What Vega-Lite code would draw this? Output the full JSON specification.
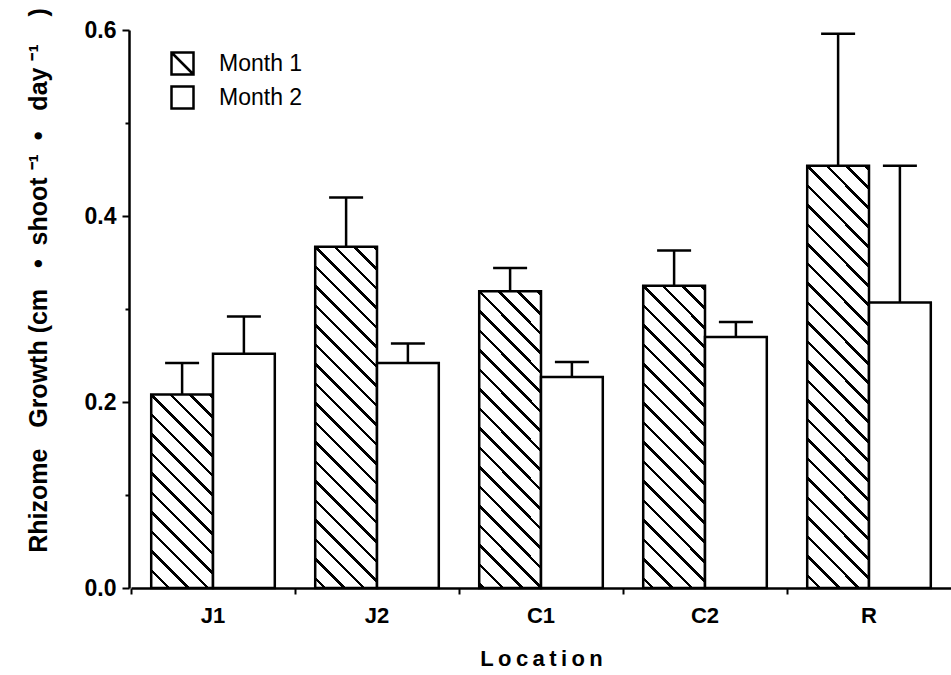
{
  "$schema": "https://vega.github.io/schema/vega-lite/v6.json",
  "width": 820,
  "height": 558,
  "autosize": {"type": "none"},
  "padding": {"left": 131, "top": 30, "right": 0, "bottom": 87},
  "background": "white",
  "config": {"view": {"stroke": null}, "font": "Liberation Sans"},
  "resolve": {"axis": {"y": "independent"}},
  "data": {
    "values": [
      {"location": "J1", "month": "Month 1", "value": 0.208, "upper": 0.242},
      {"location": "J1", "month": "Month 2", "value": 0.252, "upper": 0.292},
      {"location": "J2", "month": "Month 1", "value": 0.367, "upper": 0.42},
      {"location": "J2", "month": "Month 2", "value": 0.242, "upper": 0.263},
      {"location": "C1", "month": "Month 1", "value": 0.319, "upper": 0.344},
      {"location": "C1", "month": "Month 2", "value": 0.227, "upper": 0.243},
      {"location": "C2", "month": "Month 1", "value": 0.325, "upper": 0.363},
      {"location": "C2", "month": "Month 2", "value": 0.27, "upper": 0.286},
      {"location": "R", "month": "Month 1", "value": 0.454, "upper": 0.596},
      {"location": "R", "month": "Month 2", "value": 0.307, "upper": 0.454}
    ]
  },
  "encoding": {
    "x": {
      "field": "location",
      "type": "nominal",
      "sort": ["J1", "J2", "C1", "C2", "R"],
      "scale": {"paddingInner": 0, "paddingOuter": 0},
      "axis": {
        "title": "L\u2009o\u2009c\u2009a\u2009t\u2009i\u2009o\u2009n",
        "bandPosition": 0,
        "labelAngle": 0,
        "tickSize": 6,
        "tickWidth": 2,
        "tickColor": "black",
        "domainColor": "black",
        "domainWidth": 2.5,
        "labelFont": "Liberation Sans",
        "labelFontSize": 22,
        "labelFontWeight": "bold",
        "labelColor": "black",
        "labelPadding": 11,
        "titleFont": "Liberation Sans",
        "titleFontSize": 22,
        "titleFontWeight": "bold",
        "titleColor": "black",
        "titlePadding": 22
      }
    },
    "xOffset": {
      "field": "month",
      "type": "nominal",
      "scale": {"paddingInner": 0, "paddingOuter": 0.327}
    }
  },
  "layer": [
    {
      "mark": {"type": "bar", "stroke": "black", "strokeWidth": 2.5},
      "encoding": {
        "y": {
          "field": "value",
          "type": "quantitative",
          "scale": {"domain": [0, 0.6], "nice": false},
          "axis": {
            "orient": "left",
            "offset": 2,
            "title": "Rhizome\u00a0\u00a0\u00a0Growth\u00a0(cm\u00a0\u00a0\u00a0•\u00a0\u00a0shoot\u00a0⁻¹\u00a0\u00a0•\u00a0\u00a0\u00a0day\u00a0⁻¹\u00a0\u00a0\u00a0\u00a0)",
            "values": [0, 0.2, 0.4, 0.6],
            "format": ".1f",
            "tickSize": 7,
            "tickWidth": 2,
            "tickColor": "black",
            "domainColor": "black",
            "domainWidth": 2.5,
            "grid": false,
            "labelFont": "Liberation Sans",
            "labelFontSize": 23,
            "labelFontWeight": "bold",
            "labelColor": "black",
            "labelPadding": 6,
            "titleFont": "Liberation Sans",
            "titleFontSize": 25,
            "titleFontWeight": "bold",
            "titleColor": "black",
            "titleAngle": 270,
            "titleX": -83,
            "titleY": 250,
            "titleAlign": "center",
            "titleBaseline": "alphabetic"
          }
        },
        "fill": {
          "field": "month",
          "type": "nominal",
          "scale": {"domain": ["Month 1", "Month 2"], "range": ["white", "white"]},
          "legend": {
            "title": null,
            "orient": "none",
            "legendX": 39,
            "legendY": 21,
            "direction": "vertical",
            "symbolSize": 484,
            "symbolStrokeColor": "black",
            "symbolStrokeWidth": 2.5,
            "symbolOpacity": 1,
            "labelFont": "Liberation Sans",
            "labelFontSize": 23,
            "labelColor": "black",
            "labelOffset": 24,
            "rowPadding": 1,
            "padding": 0
          },
          "condition": [
            {
              "test": "datum.location === 'J1' && datum.month === 'Month 1'",
              "value": {"gradient": "linear", "x1": 0, "y1": 1, "x2": 0.38382, "y2": -0.19751, "stops": [
                {"offset": 0.06319, "color": "#fff"}, {"offset": 0.06319, "color": "#000"}, {"offset": 0.07728, "color": "#000"}, {"offset": 0.07728, "color": "#fff"},
                {"offset": 0.13953, "color": "#fff"}, {"offset": 0.13953, "color": "#000"}, {"offset": 0.15362, "color": "#000"}, {"offset": 0.15362, "color": "#fff"},
                {"offset": 0.21587, "color": "#fff"}, {"offset": 0.21587, "color": "#000"}, {"offset": 0.22996, "color": "#000"}, {"offset": 0.22996, "color": "#fff"},
                {"offset": 0.29221, "color": "#fff"}, {"offset": 0.29221, "color": "#000"}, {"offset": 0.30630, "color": "#000"}, {"offset": 0.30630, "color": "#fff"},
                {"offset": 0.36854, "color": "#fff"}, {"offset": 0.36854, "color": "#000"}, {"offset": 0.38263, "color": "#000"}, {"offset": 0.38263, "color": "#fff"},
                {"offset": 0.44488, "color": "#fff"}, {"offset": 0.44488, "color": "#000"}, {"offset": 0.45897, "color": "#000"}, {"offset": 0.45897, "color": "#fff"},
                {"offset": 0.52122, "color": "#fff"}, {"offset": 0.52122, "color": "#000"}, {"offset": 0.53531, "color": "#000"}, {"offset": 0.53531, "color": "#fff"},
                {"offset": 0.59756, "color": "#fff"}, {"offset": 0.59756, "color": "#000"}, {"offset": 0.61165, "color": "#000"}, {"offset": 0.61165, "color": "#fff"},
                {"offset": 0.67390, "color": "#fff"}, {"offset": 0.67390, "color": "#000"}, {"offset": 0.68799, "color": "#000"}, {"offset": 0.68799, "color": "#fff"},
                {"offset": 0.75024, "color": "#fff"}, {"offset": 0.75024, "color": "#000"}, {"offset": 0.76433, "color": "#000"}, {"offset": 0.76433, "color": "#fff"},
                {"offset": 0.82658, "color": "#fff"}, {"offset": 0.82658, "color": "#000"}, {"offset": 0.84067, "color": "#000"}, {"offset": 0.84067, "color": "#fff"},
                {"offset": 0.90292, "color": "#fff"}, {"offset": 0.90292, "color": "#000"}, {"offset": 0.91701, "color": "#000"}, {"offset": 0.91701, "color": "#fff"},
                {"offset": 0.97926, "color": "#fff"}, {"offset": 0.97926, "color": "#000"}, {"offset": 0.99335, "color": "#000"}, {"offset": 0.99335, "color": "#fff"}
              ]}
            },
            {
              "test": "datum.location === 'J2' && datum.month === 'Month 1'",
              "value": {"gradient": "linear", "x1": 0, "y1": 1, "x2": 0.20779, "y2": -0.14391, "stops": [
                {"offset": 0.01986, "color": "#fff"}, {"offset": 0.01986, "color": "#000"}, {"offset": 0.02879, "color": "#000"}, {"offset": 0.02879, "color": "#fff"},
                {"offset": 0.06821, "color": "#fff"}, {"offset": 0.06821, "color": "#000"}, {"offset": 0.07714, "color": "#000"}, {"offset": 0.07714, "color": "#fff"},
                {"offset": 0.11656, "color": "#fff"}, {"offset": 0.11656, "color": "#000"}, {"offset": 0.12549, "color": "#000"}, {"offset": 0.12549, "color": "#fff"},
                {"offset": 0.16491, "color": "#fff"}, {"offset": 0.16491, "color": "#000"}, {"offset": 0.17384, "color": "#000"}, {"offset": 0.17384, "color": "#fff"},
                {"offset": 0.21326, "color": "#fff"}, {"offset": 0.21326, "color": "#000"}, {"offset": 0.22219, "color": "#000"}, {"offset": 0.22219, "color": "#fff"},
                {"offset": 0.26161, "color": "#fff"}, {"offset": 0.26161, "color": "#000"}, {"offset": 0.27054, "color": "#000"}, {"offset": 0.27054, "color": "#fff"},
                {"offset": 0.30996, "color": "#fff"}, {"offset": 0.30996, "color": "#000"}, {"offset": 0.31889, "color": "#000"}, {"offset": 0.31889, "color": "#fff"},
                {"offset": 0.35831, "color": "#fff"}, {"offset": 0.35831, "color": "#000"}, {"offset": 0.36724, "color": "#000"}, {"offset": 0.36724, "color": "#fff"},
                {"offset": 0.40666, "color": "#fff"}, {"offset": 0.40666, "color": "#000"}, {"offset": 0.41559, "color": "#000"}, {"offset": 0.41559, "color": "#fff"},
                {"offset": 0.45501, "color": "#fff"}, {"offset": 0.45501, "color": "#000"}, {"offset": 0.46394, "color": "#000"}, {"offset": 0.46394, "color": "#fff"},
                {"offset": 0.50336, "color": "#fff"}, {"offset": 0.50336, "color": "#000"}, {"offset": 0.51229, "color": "#000"}, {"offset": 0.51229, "color": "#fff"},
                {"offset": 0.55171, "color": "#fff"}, {"offset": 0.55171, "color": "#000"}, {"offset": 0.56064, "color": "#000"}, {"offset": 0.56064, "color": "#fff"},
                {"offset": 0.60006, "color": "#fff"}, {"offset": 0.60006, "color": "#000"}, {"offset": 0.60899, "color": "#000"}, {"offset": 0.60899, "color": "#fff"},
                {"offset": 0.64841, "color": "#fff"}, {"offset": 0.64841, "color": "#000"}, {"offset": 0.65734, "color": "#000"}, {"offset": 0.65734, "color": "#fff"},
                {"offset": 0.69676, "color": "#fff"}, {"offset": 0.69676, "color": "#000"}, {"offset": 0.70569, "color": "#000"}, {"offset": 0.70569, "color": "#fff"},
                {"offset": 0.74511, "color": "#fff"}, {"offset": 0.74511, "color": "#000"}, {"offset": 0.75404, "color": "#000"}, {"offset": 0.75404, "color": "#fff"},
                {"offset": 0.79346, "color": "#fff"}, {"offset": 0.79346, "color": "#000"}, {"offset": 0.80239, "color": "#000"}, {"offset": 0.80239, "color": "#fff"},
                {"offset": 0.84181, "color": "#fff"}, {"offset": 0.84181, "color": "#000"}, {"offset": 0.85074, "color": "#000"}, {"offset": 0.85074, "color": "#fff"},
                {"offset": 0.89016, "color": "#fff"}, {"offset": 0.89016, "color": "#000"}, {"offset": 0.89909, "color": "#000"}, {"offset": 0.89909, "color": "#fff"},
                {"offset": 0.93851, "color": "#fff"}, {"offset": 0.93851, "color": "#000"}, {"offset": 0.94744, "color": "#000"}, {"offset": 0.94744, "color": "#fff"},
                {"offset": 0.98686, "color": "#fff"}, {"offset": 0.98686, "color": "#000"}, {"offset": 0.99579, "color": "#000"}, {"offset": 0.99579, "color": "#fff"}
              ]}
            },
            {
              "test": "datum.location === 'C1' && datum.month === 'Month 1'",
              "value": {"gradient": "linear", "x1": 0, "y1": 1, "x2": 0.24209, "y2": -0.15838, "stops": [
                {"offset": 0.00660, "color": "#fff"}, {"offset": 0.00660, "color": "#000"}, {"offset": 0.01664, "color": "#000"}, {"offset": 0.01664, "color": "#fff"},
                {"offset": 0.06097, "color": "#fff"}, {"offset": 0.06097, "color": "#000"}, {"offset": 0.07101, "color": "#000"}, {"offset": 0.07101, "color": "#fff"},
                {"offset": 0.11534, "color": "#fff"}, {"offset": 0.11534, "color": "#000"}, {"offset": 0.12538, "color": "#000"}, {"offset": 0.12538, "color": "#fff"},
                {"offset": 0.16970, "color": "#fff"}, {"offset": 0.16970, "color": "#000"}, {"offset": 0.17974, "color": "#000"}, {"offset": 0.17974, "color": "#fff"},
                {"offset": 0.22407, "color": "#fff"}, {"offset": 0.22407, "color": "#000"}, {"offset": 0.23411, "color": "#000"}, {"offset": 0.23411, "color": "#fff"},
                {"offset": 0.27844, "color": "#fff"}, {"offset": 0.27844, "color": "#000"}, {"offset": 0.28848, "color": "#000"}, {"offset": 0.28848, "color": "#fff"},
                {"offset": 0.33281, "color": "#fff"}, {"offset": 0.33281, "color": "#000"}, {"offset": 0.34285, "color": "#000"}, {"offset": 0.34285, "color": "#fff"},
                {"offset": 0.38718, "color": "#fff"}, {"offset": 0.38718, "color": "#000"}, {"offset": 0.39722, "color": "#000"}, {"offset": 0.39722, "color": "#fff"},
                {"offset": 0.44154, "color": "#fff"}, {"offset": 0.44154, "color": "#000"}, {"offset": 0.45158, "color": "#000"}, {"offset": 0.45158, "color": "#fff"},
                {"offset": 0.49591, "color": "#fff"}, {"offset": 0.49591, "color": "#000"}, {"offset": 0.50595, "color": "#000"}, {"offset": 0.50595, "color": "#fff"},
                {"offset": 0.55028, "color": "#fff"}, {"offset": 0.55028, "color": "#000"}, {"offset": 0.56032, "color": "#000"}, {"offset": 0.56032, "color": "#fff"},
                {"offset": 0.60465, "color": "#fff"}, {"offset": 0.60465, "color": "#000"}, {"offset": 0.61469, "color": "#000"}, {"offset": 0.61469, "color": "#fff"},
                {"offset": 0.65902, "color": "#fff"}, {"offset": 0.65902, "color": "#000"}, {"offset": 0.66906, "color": "#000"}, {"offset": 0.66906, "color": "#fff"},
                {"offset": 0.71338, "color": "#fff"}, {"offset": 0.71338, "color": "#000"}, {"offset": 0.72342, "color": "#000"}, {"offset": 0.72342, "color": "#fff"},
                {"offset": 0.76775, "color": "#fff"}, {"offset": 0.76775, "color": "#000"}, {"offset": 0.77779, "color": "#000"}, {"offset": 0.77779, "color": "#fff"},
                {"offset": 0.82212, "color": "#fff"}, {"offset": 0.82212, "color": "#000"}, {"offset": 0.83216, "color": "#000"}, {"offset": 0.83216, "color": "#fff"},
                {"offset": 0.87649, "color": "#fff"}, {"offset": 0.87649, "color": "#000"}, {"offset": 0.88653, "color": "#000"}, {"offset": 0.88653, "color": "#fff"},
                {"offset": 0.93086, "color": "#fff"}, {"offset": 0.93086, "color": "#000"}, {"offset": 0.94090, "color": "#000"}, {"offset": 0.94090, "color": "#fff"},
                {"offset": 0.98523, "color": "#fff"}, {"offset": 0.98523, "color": "#000"}, {"offset": 0.99527, "color": "#000"}, {"offset": 0.99527, "color": "#fff"}
              ]}
            },
            {
              "test": "datum.location === 'C2' && datum.month === 'Month 1'",
              "value": {"gradient": "linear", "x1": 0, "y1": 1, "x2": 0.23722, "y2": -0.15647, "stops": [
                {"offset": 0.02182, "color": "#fff"}, {"offset": 0.02182, "color": "#000"}, {"offset": 0.03170, "color": "#000"}, {"offset": 0.03170, "color": "#fff"},
                {"offset": 0.07536, "color": "#fff"}, {"offset": 0.07536, "color": "#000"}, {"offset": 0.08524, "color": "#000"}, {"offset": 0.08524, "color": "#fff"},
                {"offset": 0.12889, "color": "#fff"}, {"offset": 0.12889, "color": "#000"}, {"offset": 0.13877, "color": "#000"}, {"offset": 0.13877, "color": "#fff"},
                {"offset": 0.18243, "color": "#fff"}, {"offset": 0.18243, "color": "#000"}, {"offset": 0.19231, "color": "#000"}, {"offset": 0.19231, "color": "#fff"},
                {"offset": 0.23596, "color": "#fff"}, {"offset": 0.23596, "color": "#000"}, {"offset": 0.24584, "color": "#000"}, {"offset": 0.24584, "color": "#fff"},
                {"offset": 0.28950, "color": "#fff"}, {"offset": 0.28950, "color": "#000"}, {"offset": 0.29938, "color": "#000"}, {"offset": 0.29938, "color": "#fff"},
                {"offset": 0.34303, "color": "#fff"}, {"offset": 0.34303, "color": "#000"}, {"offset": 0.35291, "color": "#000"}, {"offset": 0.35291, "color": "#fff"},
                {"offset": 0.39657, "color": "#fff"}, {"offset": 0.39657, "color": "#000"}, {"offset": 0.40645, "color": "#000"}, {"offset": 0.40645, "color": "#fff"},
                {"offset": 0.45010, "color": "#fff"}, {"offset": 0.45010, "color": "#000"}, {"offset": 0.45998, "color": "#000"}, {"offset": 0.45998, "color": "#fff"},
                {"offset": 0.50364, "color": "#fff"}, {"offset": 0.50364, "color": "#000"}, {"offset": 0.51352, "color": "#000"}, {"offset": 0.51352, "color": "#fff"},
                {"offset": 0.55717, "color": "#fff"}, {"offset": 0.55717, "color": "#000"}, {"offset": 0.56705, "color": "#000"}, {"offset": 0.56705, "color": "#fff"},
                {"offset": 0.61071, "color": "#fff"}, {"offset": 0.61071, "color": "#000"}, {"offset": 0.62059, "color": "#000"}, {"offset": 0.62059, "color": "#fff"},
                {"offset": 0.66424, "color": "#fff"}, {"offset": 0.66424, "color": "#000"}, {"offset": 0.67412, "color": "#000"}, {"offset": 0.67412, "color": "#fff"},
                {"offset": 0.71778, "color": "#fff"}, {"offset": 0.71778, "color": "#000"}, {"offset": 0.72766, "color": "#000"}, {"offset": 0.72766, "color": "#fff"},
                {"offset": 0.77131, "color": "#fff"}, {"offset": 0.77131, "color": "#000"}, {"offset": 0.78119, "color": "#000"}, {"offset": 0.78119, "color": "#fff"},
                {"offset": 0.82485, "color": "#fff"}, {"offset": 0.82485, "color": "#000"}, {"offset": 0.83473, "color": "#000"}, {"offset": 0.83473, "color": "#fff"},
                {"offset": 0.87839, "color": "#fff"}, {"offset": 0.87839, "color": "#000"}, {"offset": 0.88827, "color": "#000"}, {"offset": 0.88827, "color": "#fff"},
                {"offset": 0.93192, "color": "#fff"}, {"offset": 0.93192, "color": "#000"}, {"offset": 0.94180, "color": "#000"}, {"offset": 0.94180, "color": "#fff"},
                {"offset": 0.98546, "color": "#fff"}, {"offset": 0.98546, "color": "#000"}, {"offset": 0.99534, "color": "#000"}, {"offset": 0.99534, "color": "#fff"}
              ]}
            },
            {
              "test": "datum.location === 'R' && datum.month === 'Month 1'",
              "value": {"gradient": "linear", "x1": 0, "y1": 1, "x2": 0.16485, "y2": -0.12264, "stops": [
                {"offset": 0.02255, "color": "#fff"}, {"offset": 0.02255, "color": "#000"}, {"offset": 0.02999, "color": "#000"}, {"offset": 0.02999, "color": "#fff"},
                {"offset": 0.06282, "color": "#fff"}, {"offset": 0.06282, "color": "#000"}, {"offset": 0.07026, "color": "#000"}, {"offset": 0.07026, "color": "#fff"},
                {"offset": 0.10309, "color": "#fff"}, {"offset": 0.10309, "color": "#000"}, {"offset": 0.11053, "color": "#000"}, {"offset": 0.11053, "color": "#fff"},
                {"offset": 0.14336, "color": "#fff"}, {"offset": 0.14336, "color": "#000"}, {"offset": 0.15080, "color": "#000"}, {"offset": 0.15080, "color": "#fff"},
                {"offset": 0.18363, "color": "#fff"}, {"offset": 0.18363, "color": "#000"}, {"offset": 0.19107, "color": "#000"}, {"offset": 0.19107, "color": "#fff"},
                {"offset": 0.22390, "color": "#fff"}, {"offset": 0.22390, "color": "#000"}, {"offset": 0.23134, "color": "#000"}, {"offset": 0.23134, "color": "#fff"},
                {"offset": 0.26417, "color": "#fff"}, {"offset": 0.26417, "color": "#000"}, {"offset": 0.27161, "color": "#000"}, {"offset": 0.27161, "color": "#fff"},
                {"offset": 0.30445, "color": "#fff"}, {"offset": 0.30445, "color": "#000"}, {"offset": 0.31189, "color": "#000"}, {"offset": 0.31189, "color": "#fff"},
                {"offset": 0.34472, "color": "#fff"}, {"offset": 0.34472, "color": "#000"}, {"offset": 0.35216, "color": "#000"}, {"offset": 0.35216, "color": "#fff"},
                {"offset": 0.38499, "color": "#fff"}, {"offset": 0.38499, "color": "#000"}, {"offset": 0.39243, "color": "#000"}, {"offset": 0.39243, "color": "#fff"},
                {"offset": 0.42526, "color": "#fff"}, {"offset": 0.42526, "color": "#000"}, {"offset": 0.43270, "color": "#000"}, {"offset": 0.43270, "color": "#fff"},
                {"offset": 0.46553, "color": "#fff"}, {"offset": 0.46553, "color": "#000"}, {"offset": 0.47297, "color": "#000"}, {"offset": 0.47297, "color": "#fff"},
                {"offset": 0.50580, "color": "#fff"}, {"offset": 0.50580, "color": "#000"}, {"offset": 0.51324, "color": "#000"}, {"offset": 0.51324, "color": "#fff"},
                {"offset": 0.54607, "color": "#fff"}, {"offset": 0.54607, "color": "#000"}, {"offset": 0.55351, "color": "#000"}, {"offset": 0.55351, "color": "#fff"},
                {"offset": 0.58634, "color": "#fff"}, {"offset": 0.58634, "color": "#000"}, {"offset": 0.59378, "color": "#000"}, {"offset": 0.59378, "color": "#fff"},
                {"offset": 0.62661, "color": "#fff"}, {"offset": 0.62661, "color": "#000"}, {"offset": 0.63405, "color": "#000"}, {"offset": 0.63405, "color": "#fff"},
                {"offset": 0.66688, "color": "#fff"}, {"offset": 0.66688, "color": "#000"}, {"offset": 0.67432, "color": "#000"}, {"offset": 0.67432, "color": "#fff"},
                {"offset": 0.70716, "color": "#fff"}, {"offset": 0.70716, "color": "#000"}, {"offset": 0.71460, "color": "#000"}, {"offset": 0.71460, "color": "#fff"},
                {"offset": 0.74743, "color": "#fff"}, {"offset": 0.74743, "color": "#000"}, {"offset": 0.75487, "color": "#000"}, {"offset": 0.75487, "color": "#fff"},
                {"offset": 0.78770, "color": "#fff"}, {"offset": 0.78770, "color": "#000"}, {"offset": 0.79514, "color": "#000"}, {"offset": 0.79514, "color": "#fff"},
                {"offset": 0.82797, "color": "#fff"}, {"offset": 0.82797, "color": "#000"}, {"offset": 0.83541, "color": "#000"}, {"offset": 0.83541, "color": "#fff"},
                {"offset": 0.86824, "color": "#fff"}, {"offset": 0.86824, "color": "#000"}, {"offset": 0.87568, "color": "#000"}, {"offset": 0.87568, "color": "#fff"},
                {"offset": 0.90851, "color": "#fff"}, {"offset": 0.90851, "color": "#000"}, {"offset": 0.91595, "color": "#000"}, {"offset": 0.91595, "color": "#fff"},
                {"offset": 0.94878, "color": "#fff"}, {"offset": 0.94878, "color": "#000"}, {"offset": 0.95622, "color": "#000"}, {"offset": 0.95622, "color": "#fff"},
                {"offset": 0.98905, "color": "#fff"}, {"offset": 0.98905, "color": "#000"}, {"offset": 0.99649, "color": "#000"}, {"offset": 0.99649, "color": "#fff"}
              ]}
            }
          ]
        }
      }
    },
    {
      "mark": {"type": "rule", "color": "black", "strokeWidth": 2.5},
      "encoding": {
        "y": {
          "field": "value",
          "type": "quantitative",
          "axis": {
            "orient": "left",
            "offset": 2,
            "values": [0.1, 0.3, 0.5],
            "tickSize": 4,
            "tickWidth": 2,
            "tickColor": "black",
            "labels": false,
            "domain": false,
            "grid": false,
            "title": null
          }
        },
        "y2": {"field": "upper"}
      }
    },
    {
      "mark": {"type": "tick", "color": "black", "opacity": 1, "size": 34, "thickness": 2.5, "orient": "horizontal"},
      "encoding": {
        "y": {"field": "upper", "type": "quantitative", "axis": null}
      }
    },
    {
      "mark": {"type": "point", "opacity": 0},
      "encoding": {
        "y": {"field": "value", "type": "quantitative", "axis": null},
        "shape": {
          "field": "month",
          "type": "nominal",
          "scale": {
            "domain": ["Month 1", "Month 2"],
            "range": ["M-1,-1H1V1H-1ZM-1,-1L1,1", "M-1,-1H1V1H-1Z"]
          },
          "legend": {
            "title": null,
            "orient": "none",
            "legendX": 39,
            "legendY": 21,
            "direction": "vertical",
            "symbolSize": 484,
            "symbolFillColor": "white",
            "symbolStrokeColor": "black",
            "symbolStrokeWidth": 2.5,
            "symbolOpacity": 1,
            "labelFont": "Liberation Sans",
            "labelFontSize": 23,
            "labelColor": "black",
            "labelOffset": 24,
            "rowPadding": 1,
            "padding": 0
          }
        }
      }
    }
  ]
}
